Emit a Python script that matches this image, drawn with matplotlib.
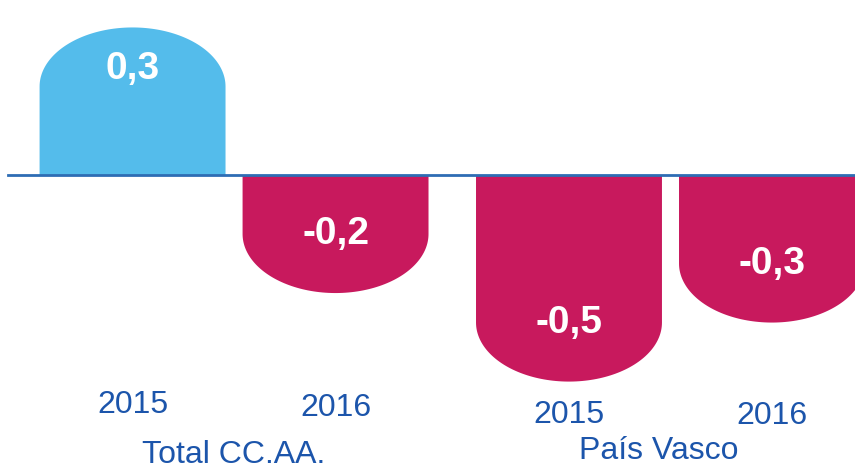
import numpy as np
import matplotlib
matplotlib.use("Agg")
import matplotlib.pyplot as plt

# data
groups = ["Total CC.AA.", "País Vasco"]
years = ["2015", "2016", "2015", "2016"]
values = [0.3, -0.2, -0.5, -0.3]
value_labels = ["0,3", "-0,2", "-0,5", "-0,3"]

plt.rcParams["font.family"] = ["Liberation Sans", "DejaVu Sans"]

pos_color = "#54bceb"
neg_color = "#c8195d"
text_blue = "#1c55ab"
line_blue = "#2e6db4"

# layout: two pairs of bars, wider gap between the groups
xpos = np.array([0.0, 1.0, 2.15, 3.15])
bar_w = 0.916
cap = 0.2  # height of the rounded end, in data units

fig = plt.figure(figsize=(8.55, 4.71), dpi=100)
ax = fig.add_axes([0, 0, 1, 1])
ax.set_xlim(-0.653, 3.559)
ax.set_ylim(-1.003, 0.593)
ax.axis("off")

t = np.linspace(0, np.pi, 100)
for x, v, lab in zip(xpos, values, value_labels):
    s = 1 if v >= 0 else -1
    left, right = x - bar_w / 2, x + bar_w / 2
    # rectangle up to the value, then a half ellipse as the rounded end
    ex = x + (bar_w / 2) * np.cos(t)
    ey = v + s * cap * np.sin(t)
    px = np.concatenate([[right, right], ex, [left, left]])
    py = np.concatenate([[0, v], ey, [v, 0]])
    ax.fill(px, py, color=pos_color if v >= 0 else neg_color, lw=0, zorder=2)
    ax.text(x, v + (0.06 if v > 0 else 0), lab, ha="center", va="center",
            color="white", fontsize=28, fontweight="bold", zorder=4)

ax.axhline(0, xmin=8 / 855, xmax=1, color=line_blue, lw=2, zorder=3)

# year labels under each bar, second group sits a little lower
year_y = [-0.807, -0.815, -0.84, -0.845]
for x, yr, yy in zip(xpos, years, year_y):
    ax.text(x, yy, yr, ha="center", va="baseline", color=text_blue, fontsize=23)

group_x = [(xpos[0] + xpos[1]) / 2, (xpos[2] + xpos[3]) / 2 - 0.06]
group_y = [-0.975, -0.962]
for gx, gy, g in zip(group_x, group_y, groups):
    ax.text(gx, gy, g, ha="center", va="baseline", color=text_blue, fontsize=23)

plt.savefig("out.png", dpi=100)
plt.close()
